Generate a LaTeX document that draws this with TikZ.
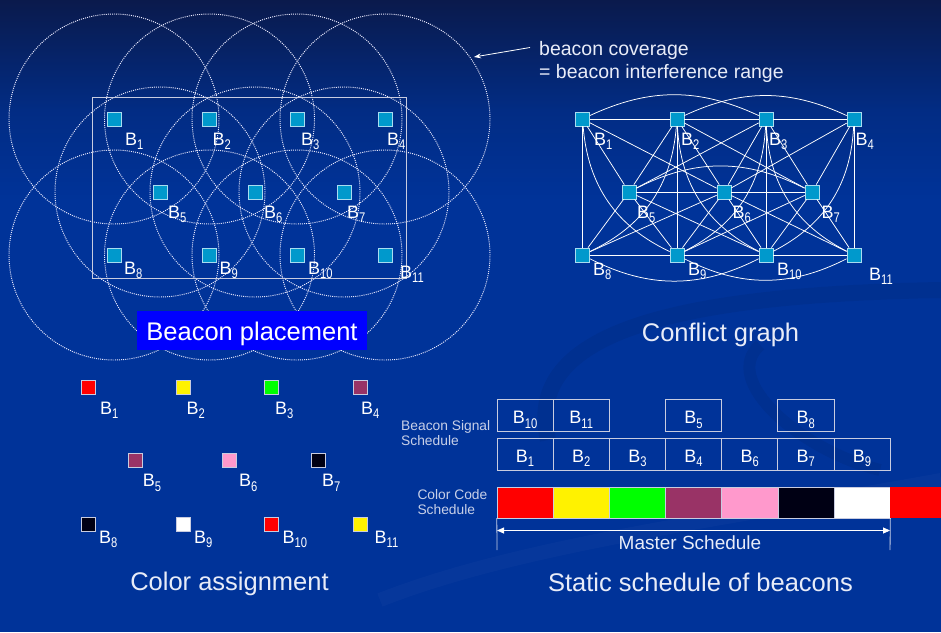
\documentclass[tikz,border=0pt]{standalone}
\usepackage{fontspec}
\setmainfont{Liberation Sans}
\usepackage{graphicx}
\usetikzlibrary{arrows.meta}
\definecolor{bgtop}{HTML}{0A1A4C}
\definecolor{bgmid}{HTML}{022C84}
\definecolor{bgbot}{HTML}{003399}
\definecolor{beac}{HTML}{0099CC}
\definecolor{sqedge}{HTML}{A8DCF0}
\definecolor{plum}{HTML}{993366}
\definecolor{pinkc}{HTML}{FF99CC}
\definecolor{blk}{HTML}{000014}
\definecolor{lbl}{HTML}{C8D0E8}
\definecolor{boxblue}{HTML}{0000FF}
\definecolor{headc}{HTML}{E8ECF8}
\definecolor{rectc}{HTML}{C8CCE0}
\newcommand\bsub[1]{B\raisebox{-4.5pt}{\scalebox{0.8}[1]{\fontsize{14}{14}\selectfont #1}}}
\begin{document}
\begin{tikzpicture}[x=1pt,y=1pt,
  bsq/.style={draw=sqedge, fill=beac, line width=0.8pt, minimum size=14pt, inner sep=0pt},
  csq/.style={draw=rectc, line width=0.6pt, minimum size=14pt, inner sep=0pt},
  dotc/.style={draw=white!92!blue, line width=0.95pt, dash pattern=on 1pt off 1.1pt},
  blab/.style={text=white, inner sep=0pt, font=\fontsize{18}{18}\selectfont, anchor=base west},
  gedge/.style={draw=white, line width=0.75pt},
  head/.style={text=headc, inner sep=0pt, anchor=base, font=\fontsize{25.5}{30}\selectfont},
  small/.style={text=lbl, inner sep=0pt, anchor=base west, font=\fontsize{13.8}{16}\selectfont},
  sbox/.style={draw=rectc, line width=0.8pt, minimum width=56.15pt, minimum height=32.3pt, inner sep=0pt},
  cbox/.style={draw=rectc, line width=0.4pt, minimum width=56.15pt, minimum height=31.3pt, inner sep=0pt}
]
\useasboundingbox (0,0) rectangle (941,-632);
% background
\fill[bgbot] (0,-200) rectangle (941,-632);
\shade[top color=bgtop, bottom color=bgmid] (0,0) rectangle (941,-110);
\shade[top color=bgmid, bottom color=bgbot] (0,-109.5) rectangle (941,-200.5);
% faint swooshes
\draw[line width=16pt, black, opacity=0.06] (548,-440) .. controls (525,-340) and (650,-295) .. (941,-290);
\draw[line width=12pt, black, opacity=0.06] (760,-345) .. controls (720,-380) and (800,-450) .. (880,-470);
\draw[line width=14pt, white, opacity=0.022] (380,-600) .. controls (520,-545) and (720,-520) .. (941,-480);

% ---------- beacon placement ----------
\foreach \i/\x/\y in {1/114/119,2/209.5/119,3/297/119,4/385/119,5/160/192,6/255/192,7/344/192,8/114/255,9/209.5/255,10/297/255,11/385/255}
  \coordinate (pc\i) at (\x,-\y);
\foreach \i in {1,...,11}
  \draw[dotc] (pc\i) circle[radius=105];
\draw[rectc, line width=1pt] (92.7,-97.7) rectangle (406.3,-278.3);
\foreach \i in {1,...,11}
  \node[bsq] (p\i) at (pc\i) {};
\foreach \i/\dx/\dy in {1/11/26,2/3/26,3/4/26,4/2/26,5/8/26,6/9/26,7/3/26,8/10/19,9/10/19,10/11/19,11/15/23}
  \node[blab, xshift=\dx, yshift=-\dy] (pl\i) at (p\i.center) {\bsub{\i}};
\node[fill=boxblue, minimum width=230pt, minimum height=39pt, inner sep=0pt] (bpbox) at (252,-330.5) {};
\node[head, text=white] (hbp) at (252,-340.7) {Beacon placement};

% coverage note
\coordinate (arrs) at (530,-47.5);
\coordinate (arrt) at (474,-57);
\draw[white, line width=0.8pt, -{Stealth[length=7pt,width=5pt]}] (arrs) -- (arrt);
\node[small, text=headc, font=\fontsize{19.5}{22}\selectfont] (cov1) at (539,-55) {beacon coverage};
\node[small, text=headc, font=\fontsize{19.5}{22}\selectfont] (cov2) at (539,-78.3) {= beacon interference range};

% ---------- conflict graph ----------
\foreach \i/\x/\y in {1/582.5/119,2/677/119,3/766/119,4/854/119,5/629/192,6/724/192,7/812/192,8/582.5/255,9/677/255,10/766/255,11/854/255}
  \node[bsq] (g\i) at (\x,-\y) {};
\foreach \a/\b in {1/2,2/3,3/4,5/6,6/7,8/9,9/10,10/11,1/8,2/9,3/10,4/11,1/5,1/6,2/5,2/6,2/7,3/5,3/6,3/7,4/6,4/7,5/8,5/9,5/10,6/8,6/9,6/10,6/11,7/9,7/10,7/11}
  \draw[gedge] (g\a) -- (g\b);
\draw[gedge] (g1) to[bend left=25] (g3);
\draw[gedge] (g2) to[bend left=25] (g4);
\draw[gedge] (g5) to[bend left=27] (g7);
\draw[gedge] (g8) to[bend right=27] (g10);
\draw[gedge] (g9) to[bend right=27] (g11);
\draw[gedge] (g1) to[bend right=30] (g9);
\draw[gedge] (g2) to[bend left=30] (g8);
\draw[gedge] (g2) to[bend right=30] (g10);
\draw[gedge] (g3) to[bend left=30] (g9);
\draw[gedge] (g3) to[bend right=30] (g11);
\draw[gedge] (g4) to[bend left=30] (g10);
\foreach \i/\dx/\dy in {1/11.5/26,2/4/26,3/3/26,4/1.5/26,5/8/26,6/8.5/26,7/9.5/26,8/10.5/20,9/11/20,10/11/20,11/15/25}
  \node[blab, xshift=\dx, yshift=-\dy] (gl\i) at (g\i.center) {\bsub{\i}};
\node[head] (hcg) at (720.5,-341) {Conflict graph};

% ---------- color assignment ----------
\foreach \i/\x/\y/\c/\dx/\dy in {1/88.5/387.5/red/11.5/26.5,2/183.5/387.5/yellow/3/26.5,3/271.5/387.5/green/3.5/26.5,4/360/387.5/plum/1/26.5,5/135/460.5/plum/7.7/26,6/229.5/460.5/pinkc/9.5/26,7/318/460.5/blk/4/26,8/88.5/524.5/blk/10.5/18.5,9/183.5/524.5/white/10.5/18.5,10/271.5/524.5/red/11/18.5,11/360/524.5/yellow/14.5/18.5}
{
  \node[csq, fill=\c] (a\i) at (\x,-\y) {};
  \node[blab, xshift=\dx, yshift=-\dy] (al\i) at (a\i.center) {\bsub{\i}};
}
\node[head] (hca) at (229.5,-590.5) {Color assignment};

% ---------- static schedule ----------
\node[small] (bss1) at (401,-430) {Beacon Signal};
\node[small] (bss2) at (401,-445.7) {Schedule};
\node[small] (ccs1) at (417.3,-499) {Color Code};
\node[small] (ccs2) at (417.3,-514) {Schedule};
\foreach \k/\b in {0/10,1/11,3/5,5/8}
{
  \node[sbox] (t\b) at ({497+56.15*(\k+0.5)},-415.5) {};
  \node[blab, anchor=base] (tt\b) at ([yshift=-8]t\b.center) {\bsub{\b}};
}
\foreach \k/\b in {0/1,1/2,2/3,3/4,4/6,5/7,6/9}
{
  \node[sbox] (r\b) at ({497+56.15*(\k+0.5)},-454.3) {};
  \node[blab, anchor=base] (rt\b) at ([yshift=-8]r\b.center) {\bsub{\b}};
}
\foreach \k/\c in {0/red,1/yellow,2/green,3/plum,4/pinkc,5/blk,6/white}
  \node[cbox, fill=\c] (cc\k) at ({497+56.15*(\k+0.5)},-502.35) {};
\node[cbox, fill=red, draw=none, minimum width=51pt, anchor=west] (cc7) at (890.05,-502.35) {};
\coordinate (tickl) at (497,-550);
\coordinate (tickr) at (890.05,-550);
\draw[lbl, line width=0.8pt] (cc0.south west) -- (tickl);
\draw[lbl, line width=0.8pt] (cc6.south east) -- (tickr);
\coordinate (ml) at (497,-530.5);
\coordinate (mr) at (890.05,-530.5);
\draw[white, line width=0.8pt, {Triangle[length=7pt,width=6pt]}-{Triangle[length=7pt,width=6pt]}] (ml) -- (mr);
\node[small, anchor=base, text=headc, font=\fontsize{19}{22}\selectfont] (msch) at (690,-549) {Master Schedule};
\node[head] (hss) at (700.5,-591) {Static schedule of beacons};
\end{tikzpicture}
\end{document}
